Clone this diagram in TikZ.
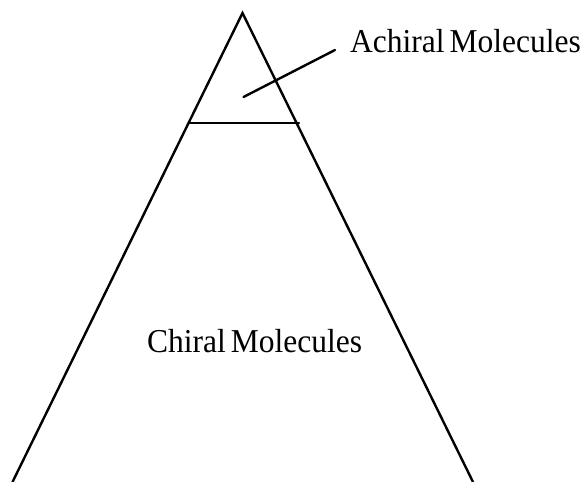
\documentclass[tikz,border=0pt]{standalone}
\usepackage{fontspec}
\setmainfont{Liberation Serif}
\tikzset{edge/.style={line width=2.4pt,line cap=round},
  lbl/.style={inner sep=0pt,font=\fontsize{31.5}{36}\selectfont,yscale=1.06}}
\begin{document}
\begin{tikzpicture}[x=1pt,y=-1pt]
\useasboundingbox (0,0) rectangle (584,482);
\coordinate (apex) at (242.5,13);
\coordinate (bl) at (12.5,482);
\coordinate (br) at (473,482);
\coordinate (hl) at (190,123);
\coordinate (hr) at (299,123);
\coordinate (p1) at (243.5,97);
\coordinate (p2) at (335,50);
\draw[edge] (bl) -- (apex) -- (br);
\draw[edge] (hl) -- (hr);
\draw[edge] (p1) -- (p2);
\node[lbl,anchor=base west] (ach) at (350,52) {Achiral\hspace{5pt}Molecules};
\node[lbl,anchor=base west] (chi) at (147,352) {Chiral\hspace{5pt}Molecules};
\end{tikzpicture}
\end{document}
